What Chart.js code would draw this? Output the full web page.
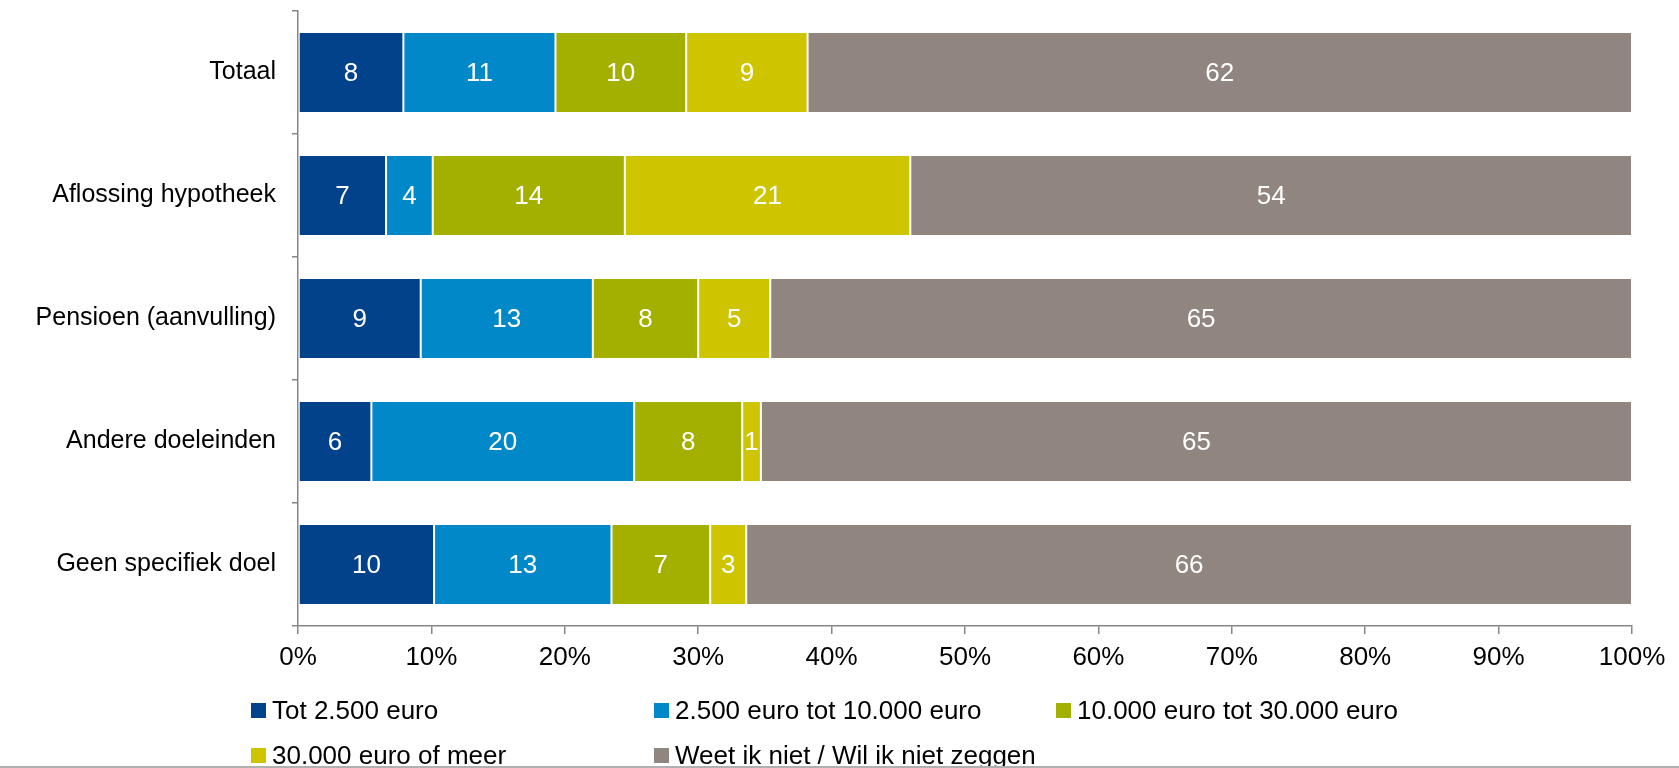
<!DOCTYPE html>
<html>
<head>
<meta charset="utf-8">
<script src="https://cdn.jsdelivr.net/npm/chart.js@4/dist/chart.umd.min.js"></script>
<style>
  html, body { margin: 0; padding: 0; background: #fff; }
  #wrap { position: relative; width: 1679px; height: 768px; overflow: hidden; font-family: "Liberation Sans", Arial, sans-serif; }
  #c { position: absolute; left: 0; top: 0; }
  .lg { position: absolute; display: flex; align-items: center; height: 30px; font-size: 26px; color: #000; white-space: nowrap; }
  .lg span.box { display: inline-block; width: 15px; height: 15px; margin-right: 6px; }
  #bline { position: absolute; left: 0; top: 766px; width: 1679px; height: 2px; background: #b0b0b0; }
</style>
</head>
<body>
<div id="wrap">
  <canvas id="c" width="1679" height="768"></canvas>
  <div id="legend"></div>
  <div id="bline"></div>
</div>
<script>
const categories = ["Totaal", "Aflossing hypotheek", "Pensioen (aanvulling)", "Andere doeleinden", "Geen specifiek doel"];
const seriesNames = ["Tot 2.500 euro", "2.500 euro tot 10.000 euro", "10.000 euro tot 30.000 euro", "30.000 euro of meer", "Weet ik niet / Wil ik niet zeggen"];
const tot2500 = [7.9, 6.6, 9.2, 5.5, 10.2];
const tot10000 = [11.4, 3.5, 12.9, 19.7, 13.3];
const tot30000 = [9.8, 14.4, 7.9, 8.1, 7.4];
const meer30000 = [9.1, 21.4, 5.4, 1.4, 2.7];
const weetNiet = [61.8, 54.1, 64.6, 65.3, 66.4];
const xTicks = [0, 10, 20, 30, 40, 50, 60, 70, 80, 90, 100];
const colors = ["#01428A", "#0088C8", "#A3B000", "#CFC400", "#91857F"];

const seriesValues = [tot2500, tot10000, tot30000, meer30000, weetNiet];
const FONT = '"Liberation Sans", Arial, sans-serif';

const datasets = seriesNames.map((name, i) => ({
  label: name,
  data: seriesValues[i],
  backgroundColor: colors[i],
  borderColor: "rgba(255,255,255,0.45)",
  borderWidth: 1,
  borderSkipped: false,
  categoryPercentage: 1.0,
  barPercentage: 0.66
}));

const valueLabels = {
  id: "valueLabels",
  afterDatasetsDraw(chart) {
    const ctx = chart.ctx;
    ctx.save();
    ctx.fillStyle = "#ffffff";
    ctx.font = "26px " + FONT;
    ctx.textAlign = "center";
    ctx.textBaseline = "middle";
    chart.data.datasets.forEach((ds, di) => {
      const meta = chart.getDatasetMeta(di);
      meta.data.forEach((el, idx) => {
        const p = el.getCenterPoint();
        ctx.fillText(String(Math.round(ds.data[idx])), p.x, p.y + 1);
      });
    });
    ctx.restore();
  }
};

const chart = new Chart(document.getElementById("c"), {
  type: "bar",
  data: { labels: categories, datasets: datasets },
  options: {
    indexAxis: "y",
    responsive: false,
    animation: false,
    layout: { padding: { top: 11, right: 47, bottom: 82, left: 0 } },
    plugins: { legend: { display: false }, tooltip: { enabled: false } },
    scales: {
      x: {
        stacked: true,
        min: 0,
        max: 100,
        afterBuildTicks(scale) { scale.ticks = xTicks.map(v => ({ value: v })); },
        afterFit(scale) { scale.height = 60; },
        ticks: {
          callback: v => v + "%",
          color: "#000",
          font: { family: FONT, size: 26 },
          padding: 8,
          maxRotation: 0
        },
        grid: { drawOnChartArea: false, drawTicks: true, tickLength: 8, color: "#868686", lineWidth: 1.5 },
        border: { color: "#868686", width: 1.5 }
      },
      y: {
        stacked: true,
        afterFit(scale) { scale.width = 298; scale.paddingTop = 0; scale.paddingBottom = 0; },
        ticks: {
          color: "#000",
          font: { family: FONT, size: 25 },
          padding: 16
        },
        grid: { offset: true, drawOnChartArea: false, drawTicks: true, tickLength: 6, color: "#868686", lineWidth: 1.5 },
        border: { color: "#868686", width: 1.5 }
      }
    }
  },
  plugins: [valueLabels]
});

// HTML legend built from chart datasets
const legendPos = [[251, 695], [654, 695], [1056, 695], [251, 740], [654, 740]];
const lg = document.getElementById("legend");
chart.data.datasets.forEach((ds, i) => {
  const d = document.createElement("div");
  d.className = "lg";
  d.style.left = legendPos[i][0] + "px";
  d.style.top = legendPos[i][1] + "px";
  const b = document.createElement("span");
  b.className = "box";
  b.style.background = ds.backgroundColor;
  d.appendChild(b);
  d.appendChild(document.createTextNode(ds.label));
  lg.appendChild(d);
});
</script>
</body>
</html>
